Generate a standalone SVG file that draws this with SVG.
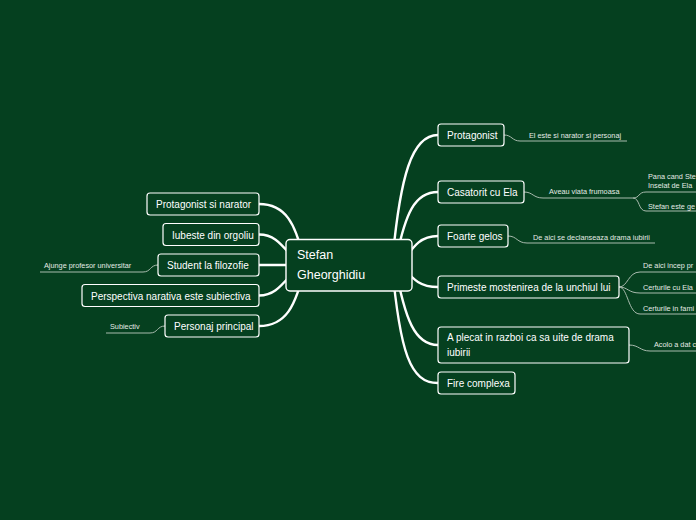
<svg xmlns="http://www.w3.org/2000/svg" width="696" height="520" viewBox="0 0 696 520">
<style>
.bg{fill:#05401f}
.node rect{fill:#05401f;stroke:#ffffff;stroke-width:1.2}
.node text{fill:#ffffff;font-family:"Liberation Sans",Arial,sans-serif;font-size:10px}
.central rect{fill:#05401f;stroke:#ffffff;stroke-width:1.4}
.central text{fill:#ffffff;font-family:"Liberation Sans",Arial,sans-serif;font-size:12.5px}
.main{fill:none;stroke:#ffffff;stroke-width:2.4;stroke-linecap:round}
.thin{fill:none;stroke:#a9bbae;stroke-width:1}
.leaf{fill:#e4ebe5;font-family:"Liberation Sans",Arial,sans-serif;font-size:7.3px}
</style>
<rect class="bg" x="0" y="0" width="696" height="520"/>
<g id="connectors">
  <path class="main" d="M392 265 C400 175,412 135,438 135"/>
  <path class="main" d="M395 265 C405 212,415 192,438 192"/>
  <path class="main" d="M400 265 C414 246,420 236,438 236"/>
  <path class="main" d="M400 265 C414 280,420 287,438 287"/>
  <path class="main" d="M395 265 C405 320,415 345,438 345"/>
  <path class="main" d="M392 265 C400 352,410 383,438 383"/>
  <path class="main" d="M259 204 C285 204,296 222,305 265"/>
  <path class="main" d="M259 234.5 C276 234.5,282 246,300 265"/>
  <path class="main" d="M259 265 L300 265"/>
  <path class="main" d="M259 295.5 C276 295.5,282 284,300 265"/>
  <path class="main" d="M259 326 C285 326,296 308,305 265"/>
  <path class="thin" d="M504 135 C512 135,512 141,520 141 L627 141"/>
  <path class="thin" d="M524 192 C533 192,533 198,543 198 L633 198"/>
  <path class="thin" d="M633 198 C640 198,638 192,646 192 L696 192"/>
  <path class="thin" d="M633 198 C640 198,638 211,646 211 L696 211"/>
  <path class="thin" d="M508 236 C517 236,517 243,527 243 L655 243"/>
  <path class="thin" d="M619 287 C628 287,628 272,640 272 L696 272"/>
  <path class="thin" d="M619 287 C628 287,628 293,640 293 L696 293"/>
  <path class="thin" d="M619 287 C628 287,628 314,640 314 L696 314"/>
  <path class="thin" d="M629 345 C639 345,640 351,650 351 L696 351"/>
  <path class="thin" d="M158 265 C150 265,151 272,143 272 L40 272"/>
  <path class="thin" d="M165 326 C157 326,158 333,150 333 L106 333"/>
</g>
<g id="central" class="central">
  <rect x="286" y="239.5" width="126" height="51.5" rx="4"/>
  <text x="297" y="258.5">Stefan</text>
  <text x="297" y="278.5">Gheorghidiu</text>
</g>
<g id="n-protagonist" class="node">
  <rect x="438" y="124" width="66" height="22" rx="3"/>
  <text x="447" y="139">Protagonist</text>
</g>
<g id="n-casatorit" class="node">
  <rect x="438" y="181" width="86" height="22" rx="3"/>
  <text x="447" y="196">Casatorit cu Ela</text>
</g>
<g id="n-gelos" class="node">
  <rect x="438" y="225" width="70" height="22" rx="3"/>
  <text x="447" y="240">Foarte gelos</text>
</g>
<g id="n-mostenire" class="node">
  <rect x="438" y="276" width="181" height="22" rx="3"/>
  <text x="447" y="291">Primeste mostenirea de la unchiul lui</text>
</g>
<g id="n-razboi" class="node">
  <rect x="438" y="327" width="191" height="36" rx="3"/>
  <text x="447" y="341">A plecat in razboi ca sa uite de drama</text>
  <text x="447" y="356">iubirii</text>
</g>
<g id="n-fire" class="node">
  <rect x="438" y="372" width="77" height="22" rx="3"/>
  <text x="447" y="387">Fire complexa</text>
</g>
<g id="n-protnarator" class="node">
  <rect x="147" y="193" width="112" height="22" rx="3"/>
  <text x="156" y="208">Protagonist si narator</text>
</g>
<g id="n-iubeste" class="node">
  <rect x="163" y="223.5" width="96" height="22" rx="3"/>
  <text x="172" y="238.5">Iubeste din orgoliu</text>
</g>
<g id="n-student" class="node">
  <rect x="158" y="254" width="101" height="22" rx="3"/>
  <text x="167" y="269">Student la filozofie</text>
</g>
<g id="n-perspectiva" class="node">
  <rect x="82" y="284.5" width="177" height="22" rx="3"/>
  <text x="91" y="299.5">Perspectiva narativa este subiectiva</text>
</g>
<g id="n-personaj" class="node">
  <rect x="165" y="315" width="94" height="22" rx="3"/>
  <text x="174" y="330">Personaj principal</text>
</g>
<g id="leaves">
  <text class="leaf" x="529" y="137.5">El este si narator si personaj</text>
  <text class="leaf" x="549" y="194">Aveau viata frumoasa</text>
  <text class="leaf" x="648" y="179">Pana cand Ste</text>
  <text class="leaf" x="648" y="188">Inselat de Ela</text>
  <text class="leaf" x="648" y="209">Stefan este ge</text>
  <text class="leaf" x="533" y="239.5">De aici se declanseaza drama iubirii</text>
  <text class="leaf" x="643" y="268">De aici incep pr</text>
  <text class="leaf" x="643" y="289.5">Certurile cu Ela</text>
  <text class="leaf" x="643" y="310.5">Certurile in fami</text>
  <text class="leaf" x="654" y="347">Acolo a dat c</text>
  <text class="leaf" x="44" y="268">Ajunge profesor universitar</text>
  <text class="leaf" x="110" y="329">Subiectiv</text>
</g>
</svg>
